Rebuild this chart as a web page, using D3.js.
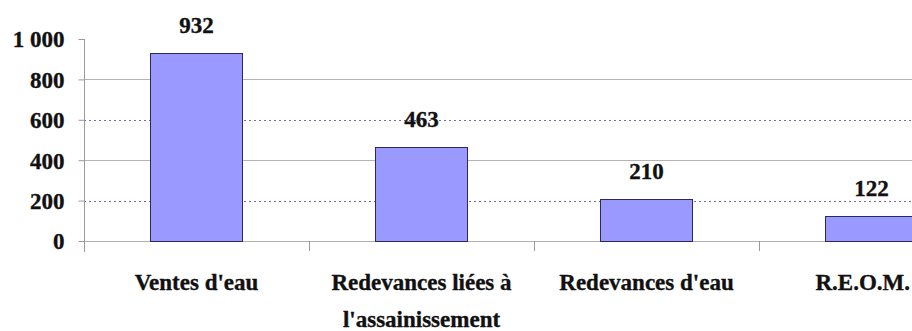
<!DOCTYPE html>
<html>
<head>
<meta charset="utf-8">
<script src="https://cdn.jsdelivr.net/npm/d3@7"></script>
<style>
  html, body { margin: 0; padding: 0; background: #fff; }
  svg { display: block; }
  text {
    font-family: "Liberation Serif", "Times New Roman", serif;
    font-weight: bold;
    fill: #111;
    stroke: #111;
    stroke-width: 0.35px;
  }
</style>
</head>
<body>
<svg id="chart" width="912" height="331"></svg>
<script>
// Recettes par poste (valeurs indiquées au-dessus des barres)
const categories = [
  ["Ventes d'eau"],
  ["Redevances liées à", "l'assainissement"],
  ["Redevances d'eau"],
  ["R.E.O.M."]
];
const values = [932, 463, 210, 122];
const yTicks = [0, 200, 400, 600, 800, 1000];
const yTickLabels = ["0", "200", "400", "600", "800", "1 000"];

const W = 912;
const svg = d3.select("#chart");
const plotLeft = 84, bandStep = 225;
const plotTop = 39, plotBottom = 241;
const fontSize = "23px";

const x = d3.scaleBand()
  .domain(d3.range(categories.length))
  .range([plotLeft, plotLeft + bandStep * categories.length])
  .paddingInner(0.59)
  .paddingOuter(0.295);

const y = d3.scaleLinear().domain([0, 1000]).range([plotBottom, plotTop]);

// Quadrillage horizontal
const grid = svg.append("g");
yTicks.filter(t => t > 0 && t < 1000).forEach(t => {
  const dotted = (t === 200 || t === 600);
  grid.append("line")
    .attr("x1", plotLeft).attr("x2", W)
    .attr("y1", Math.round(y(t)) + 0.5).attr("y2", Math.round(y(t)) + 0.5)
    .attr("stroke", dotted ? "#70709a" : "#b4b4b4")
    .attr("stroke-width", 1)
    .attr("stroke-dasharray", dotted ? "2,3" : null);
});

// Ligne de base
svg.append("line")
  .attr("x1", plotLeft).attr("x2", W)
  .attr("y1", plotBottom + 0.5).attr("y2", plotBottom + 0.5)
  .attr("stroke", "#b0b0b0");

// Axe vertical
const yAxis = d3.axisLeft(y)
  .tickValues(yTicks)
  .tickFormat((d, i) => yTickLabels[i])
  .tickSize(6)
  .tickPadding(14);
const gy = svg.append("g")
  .attr("transform", `translate(${plotLeft + 0.5},0)`)
  .call(yAxis);
gy.select(".domain").remove();
gy.selectAll(".tick line").attr("stroke", "#9a9a9a");
gy.selectAll(".tick text")
  .style("font-family", "'Liberation Serif', serif")
  .style("font-weight", "bold")
  .style("font-size", fontSize)
  .attr("fill", "#111")
  .attr("dy", "0.34em");
svg.append("line")
  .attr("x1", plotLeft + 0.5).attr("x2", plotLeft + 0.5)
  .attr("y1", plotTop).attr("y2", plotBottom + 11)
  .attr("stroke", "#9a9a9a");

// Graduations de l'axe horizontal entre les catégories
const xTickPos = d3.range(1, categories.length).map(i => plotLeft + bandStep * i);
svg.append("g").selectAll("line").data(xTickPos).join("line")
  .attr("x1", d => d + 0.5).attr("x2", d => d + 0.5)
  .attr("y1", plotBottom).attr("y2", plotBottom + 10)
  .attr("stroke", "#9a9a9a");

// Barres
svg.append("g").selectAll("rect").data(values).join("rect")
  .attr("x", (d, i) => Math.round(x(i)) + 0.5)
  .attr("y", d => Math.round(y(d)) + 0.5)
  .attr("width", Math.round(x.bandwidth()))
  .attr("height", d => Math.round(y(0)) - Math.round(y(d)))
  .attr("fill", "#9999ff")
  .attr("stroke", "#2a2a5a")
  .attr("stroke-width", 1);

// Étiquettes de valeur
svg.append("g").selectAll("text").data(values).join("text")
  .attr("x", (d, i) => x(i) + x.bandwidth() / 2)
  .attr("y", d => y(d) - 20)
  .attr("text-anchor", "middle")
  .style("font-size", fontSize)
  .text(d => d);

// Libellés des catégories (ramenés dans la zone visible si besoin)
const labels = svg.append("g");
categories.forEach((lines, i) => {
  const t = labels.append("text")
    .attr("y", 290)
    .attr("text-anchor", "middle")
    .style("font-size", fontSize);
  const spans = lines.map((ln, j) => t.append("tspan")
    .attr("dy", j === 0 ? 0 : 37)
    .text(ln));
  spans.forEach(s => {
    const w = s.node().getComputedTextLength();
    const cx = Math.min(x(i) + x.bandwidth() / 2, W - 2 - w / 2);
    s.attr("x", cx);
  });
});
</script>
</body>
</html>
